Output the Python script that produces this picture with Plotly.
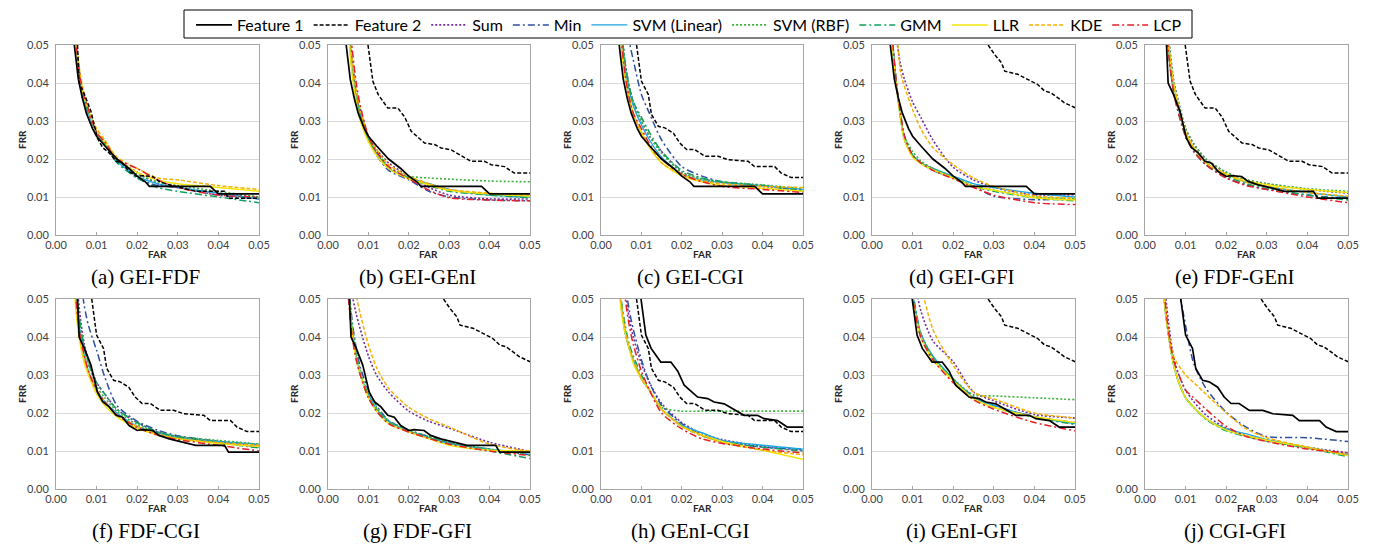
import plotly.graph_objects as go

# ---------------- data ----------------
SERIES = ["Feature 1", "Feature 2", "Sum", "Min", "SVM (Linear)", "SVM (RBF)",
          "GMM", "LLR", "KDE", "LCP"]
CAPTIONS = ["(a) GEI-FDF", "(b) GEI-GEnI", "(c) GEI-CGI", "(d) GEI-GFI", "(e) FDF-GEnI",
            "(f) FDF-CGI", "(g) FDF-GFI", "(h) GEnI-CGI", "(i) GEnI-GFI", "(j) CGI-GFI"]
TICKS = [0.00, 0.01, 0.02, 0.03, 0.04, 0.05]

# single-feature curves (FAR, FRR)
GEI_FAR = [0.0045, 0.0055, 0.0065, 0.0075, 0.009, 0.010, 0.012, 0.015, 0.018, 0.020, 0.022, 0.023, 0.038, 0.040, 0.050]
GEI_FRR = [0.050, 0.041, 0.036, 0.032, 0.028, 0.026, 0.0235, 0.020, 0.0175, 0.0155, 0.014, 0.0128, 0.0128, 0.0108, 0.0108]
FDF_FAR = [0.0053, 0.0057, 0.007, 0.0086, 0.0102, 0.0115, 0.0131, 0.0148, 0.0164, 0.018, 0.020, 0.0213, 0.0238, 0.0254, 0.0279, 0.030, 0.0344, 0.0415, 0.0425, 0.050]
FDF_FRR = [0.050, 0.040, 0.037, 0.0326, 0.0255, 0.023, 0.0216, 0.0194, 0.0189, 0.0167, 0.0154, 0.0156, 0.0154, 0.0141, 0.0132, 0.0127, 0.0115, 0.0115, 0.0097, 0.0097]
GENI_FAR = [0.0099, 0.0111, 0.0124, 0.0148, 0.0173, 0.019, 0.0206, 0.0239, 0.0264, 0.028, 0.0305, 0.0334, 0.0354, 0.0387, 0.0404, 0.0437, 0.0461, 0.050]
GENI_FRR = [0.050, 0.0405, 0.037, 0.0334, 0.0334, 0.031, 0.0273, 0.0242, 0.0238, 0.0229, 0.0224, 0.0207, 0.0194, 0.0194, 0.0185, 0.018, 0.0163, 0.0163]
CGI_FAR = [0.0088, 0.010, 0.0117, 0.0125, 0.0142, 0.0158, 0.0179, 0.0195, 0.0212, 0.0232, 0.0257, 0.029, 0.0315, 0.0364, 0.038, 0.043, 0.0446, 0.0471, 0.050]
CGI_FRR = [0.050, 0.0405, 0.037, 0.0317, 0.0286, 0.0282, 0.0268, 0.0242, 0.0225, 0.0225, 0.0207, 0.0207, 0.0198, 0.0194, 0.018, 0.018, 0.0163, 0.0151, 0.0151]
GFI_FAR = [0.0286, 0.0302, 0.0319, 0.0327, 0.0359, 0.0376, 0.0408, 0.0425, 0.0441, 0.0458, 0.0474, 0.050]
GFI_FRR = [0.050, 0.0475, 0.0453, 0.0431, 0.0423, 0.0414, 0.0396, 0.0379, 0.0374, 0.0361, 0.0348, 0.0335]

PAIRS = [("GEI", "FDF"), ("GEI", "GENI"), ("GEI", "CGI"), ("GEI", "GFI"), ("FDF", "GENI"),
         ("FDF", "CGI"), ("FDF", "GFI"), ("GENI", "CGI"), ("GENI", "GFI"), ("CGI", "GFI")]

# fused curves sampled on a common FAR grid
# order: Sum, Min, SVM (Linear), SVM (RBF), GMM, LLR, KDE, LCP
FAR_GRID = [0.004, 0.005, 0.006, 0.007, 0.008, 0.010, 0.012, 0.015, 0.020, 0.025, 0.030, 0.040, 0.050]

FUSED_A = [
    [0.065, 0.050, 0.041, 0.036, 0.033, 0.027, 0.0245, 0.020, 0.0165, 0.0135, 0.0125, 0.0110, 0.0100],
    [0.065, 0.050, 0.041, 0.036, 0.032, 0.027, 0.024, 0.0195, 0.015, 0.013, 0.0125, 0.0105, 0.0095],
    [0.065, 0.050, 0.040, 0.035, 0.032, 0.027, 0.024, 0.0195, 0.0155, 0.0135, 0.0125, 0.011, 0.0095],
    [0.065, 0.050, 0.041, 0.036, 0.033, 0.027, 0.024, 0.020, 0.016, 0.014, 0.0130, 0.0115, 0.0100],
    [0.065, 0.050, 0.040, 0.035, 0.032, 0.027, 0.024, 0.019, 0.015, 0.0125, 0.0115, 0.010, 0.0085],
    [0.065, 0.050, 0.041, 0.036, 0.033, 0.027, 0.0245, 0.020, 0.0165, 0.0145, 0.0135, 0.0125, 0.0115],
    [0.066, 0.051, 0.042, 0.037, 0.033, 0.028, 0.025, 0.0205, 0.0175, 0.015, 0.0145, 0.013, 0.012],
    [0.065, 0.050, 0.041, 0.036, 0.033, 0.027, 0.0245, 0.020, 0.0175, 0.0145, 0.0125, 0.0105, 0.0100],
]
FUSED_B = [
    [0.075, 0.058, 0.046, 0.038, 0.033, 0.026, 0.0225, 0.019, 0.0155, 0.0125, 0.0105, 0.0095, 0.0095],
    [0.075, 0.058, 0.045, 0.037, 0.032, 0.025, 0.021, 0.017, 0.0145, 0.0115, 0.0100, 0.0092, 0.0090],
    [0.070, 0.055, 0.043, 0.036, 0.031, 0.025, 0.0215, 0.0175, 0.015, 0.0135, 0.0120, 0.0105, 0.0100],
    [0.072, 0.056, 0.044, 0.037, 0.032, 0.025, 0.022, 0.018, 0.0155, 0.0150, 0.0147, 0.0142, 0.0140],
    [0.070, 0.055, 0.043, 0.036, 0.031, 0.025, 0.0215, 0.0175, 0.015, 0.013, 0.0115, 0.0105, 0.0098],
    [0.068, 0.054, 0.042, 0.035, 0.030, 0.0245, 0.021, 0.0175, 0.0148, 0.0132, 0.0118, 0.0108, 0.0102],
    [0.075, 0.058, 0.046, 0.038, 0.033, 0.026, 0.0225, 0.0185, 0.0155, 0.0135, 0.0120, 0.0110, 0.0105],
    [0.080, 0.063, 0.049, 0.040, 0.034, 0.026, 0.022, 0.018, 0.0148, 0.0118, 0.0098, 0.0092, 0.0090],
]
FUSED_C = [
    [0.070, 0.055, 0.045, 0.039, 0.035, 0.030, 0.026, 0.022, 0.0165, 0.0145, 0.0138, 0.0128, 0.0118],
    [0.080, 0.070, 0.060, 0.051, 0.046, 0.037, 0.032, 0.025, 0.018, 0.0155, 0.014, 0.013, 0.0118],
    [0.068, 0.054, 0.044, 0.038, 0.034, 0.029, 0.025, 0.0205, 0.016, 0.0145, 0.0138, 0.013, 0.012],
    [0.070, 0.055, 0.045, 0.039, 0.035, 0.030, 0.026, 0.0215, 0.0165, 0.0148, 0.014, 0.0132, 0.0122],
    [0.070, 0.055, 0.045, 0.039, 0.035, 0.031, 0.027, 0.022, 0.017, 0.015, 0.014, 0.013, 0.0115],
    [0.065, 0.050, 0.041, 0.036, 0.032, 0.027, 0.023, 0.019, 0.0155, 0.014, 0.013, 0.0123, 0.0115],
    [0.066, 0.051, 0.042, 0.036, 0.032, 0.027, 0.0235, 0.019, 0.016, 0.0143, 0.0135, 0.0128, 0.0125],
    [0.068, 0.052, 0.042, 0.036, 0.032, 0.028, 0.024, 0.020, 0.016, 0.014, 0.0128, 0.012, 0.0112],
]
FUSED_D = [
    [0.075, 0.060, 0.052, 0.045, 0.041, 0.035, 0.031, 0.025, 0.0178, 0.0145, 0.0125, 0.0106, 0.0106],
    [0.070, 0.052, 0.040, 0.032, 0.026, 0.021, 0.019, 0.0175, 0.015, 0.0128, 0.0102, 0.0093, 0.0095],
    [0.070, 0.052, 0.040, 0.031, 0.025, 0.021, 0.019, 0.0175, 0.0155, 0.0135, 0.0125, 0.011, 0.010],
    [0.070, 0.052, 0.040, 0.032, 0.026, 0.022, 0.0195, 0.0175, 0.0152, 0.013, 0.0118, 0.010, 0.0095],
    [0.068, 0.050, 0.039, 0.031, 0.025, 0.021, 0.019, 0.017, 0.015, 0.0128, 0.0115, 0.0098, 0.0090],
    [0.068, 0.050, 0.039, 0.031, 0.025, 0.0205, 0.0188, 0.0172, 0.015, 0.0128, 0.0118, 0.0098, 0.0092],
    [0.080, 0.065, 0.055, 0.043, 0.039, 0.033, 0.028, 0.023, 0.0185, 0.0150, 0.0128, 0.0103, 0.0097],
    [0.070, 0.052, 0.040, 0.032, 0.026, 0.021, 0.019, 0.017, 0.0148, 0.0125, 0.0105, 0.0085, 0.0080],
]
FUSED_E = [
    [0.080, 0.062, 0.050, 0.041, 0.036, 0.028, 0.024, 0.020, 0.0165, 0.0145, 0.0135, 0.0120, 0.0110],
    [0.075, 0.060, 0.048, 0.039, 0.034, 0.026, 0.022, 0.0185, 0.015, 0.0132, 0.012, 0.0105, 0.0095],
    [0.075, 0.058, 0.046, 0.038, 0.034, 0.027, 0.023, 0.019, 0.016, 0.014, 0.0128, 0.0112, 0.0100],
    [0.080, 0.062, 0.050, 0.041, 0.036, 0.028, 0.024, 0.020, 0.0165, 0.0145, 0.0135, 0.0122, 0.0115],
    [0.075, 0.058, 0.046, 0.038, 0.033, 0.026, 0.022, 0.0185, 0.0155, 0.0135, 0.0122, 0.0105, 0.0092],
    [0.078, 0.060, 0.048, 0.040, 0.035, 0.027, 0.023, 0.019, 0.016, 0.0142, 0.0132, 0.012, 0.0112],
    [0.078, 0.060, 0.048, 0.040, 0.035, 0.027, 0.023, 0.019, 0.016, 0.0138, 0.0128, 0.0112, 0.0102],
    [0.075, 0.058, 0.046, 0.038, 0.033, 0.026, 0.022, 0.0185, 0.015, 0.013, 0.012, 0.0100, 0.0085],
]
FUSED_F = [
    [0.072, 0.056, 0.045, 0.038, 0.034, 0.028, 0.025, 0.021, 0.0175, 0.015, 0.0138, 0.0125, 0.0115],
    [0.090, 0.070, 0.056, 0.048, 0.043, 0.0365, 0.0295, 0.022, 0.0178, 0.0155, 0.014, 0.0125, 0.011],
    [0.065, 0.050, 0.041, 0.035, 0.031, 0.026, 0.023, 0.020, 0.0165, 0.0148, 0.0135, 0.0125, 0.0118],
    [0.068, 0.052, 0.043, 0.037, 0.033, 0.027, 0.024, 0.0205, 0.017, 0.015, 0.0138, 0.0128, 0.0118],
    [0.068, 0.052, 0.043, 0.037, 0.033, 0.028, 0.025, 0.021, 0.0175, 0.015, 0.0138, 0.0122, 0.0108],
    [0.060, 0.046, 0.038, 0.033, 0.030, 0.025, 0.022, 0.019, 0.016, 0.0143, 0.0132, 0.012, 0.0112],
    [0.064, 0.048, 0.039, 0.034, 0.031, 0.026, 0.023, 0.0195, 0.0165, 0.0145, 0.0133, 0.0122, 0.0115],
    [0.065, 0.049, 0.040, 0.035, 0.031, 0.026, 0.023, 0.0195, 0.0162, 0.0142, 0.013, 0.0115, 0.0100],
]
FUSED_G = [
    [0.075, 0.060, 0.051, 0.046, 0.042, 0.035, 0.030, 0.0255, 0.0205, 0.0178, 0.016, 0.0123, 0.0099],
    [0.070, 0.055, 0.044, 0.037, 0.032, 0.026, 0.022, 0.018, 0.0155, 0.0138, 0.0122, 0.0105, 0.0090],
    [0.068, 0.053, 0.042, 0.035, 0.030, 0.025, 0.021, 0.0178, 0.0152, 0.0135, 0.012, 0.0105, 0.0095],
    [0.068, 0.054, 0.043, 0.036, 0.031, 0.025, 0.0215, 0.018, 0.0155, 0.0138, 0.0122, 0.0105, 0.0090],
    [0.066, 0.052, 0.041, 0.034, 0.030, 0.024, 0.021, 0.0175, 0.015, 0.0135, 0.0118, 0.010, 0.0080],
    [0.066, 0.052, 0.041, 0.034, 0.030, 0.024, 0.0205, 0.0172, 0.015, 0.0132, 0.0115, 0.0102, 0.0100],
    [0.090, 0.075, 0.062, 0.051, 0.046, 0.038, 0.032, 0.0265, 0.0215, 0.0185, 0.0163, 0.0118, 0.0099],
    [0.066, 0.051, 0.040, 0.034, 0.030, 0.024, 0.0205, 0.0172, 0.015, 0.0133, 0.0118, 0.0100, 0.0088],
]
FUSED_H = [
    [0.080, 0.062, 0.052, 0.045, 0.040, 0.033, 0.028, 0.0225, 0.0175, 0.0145, 0.013, 0.0112, 0.0102],
    [0.085, 0.065, 0.054, 0.047, 0.042, 0.034, 0.028, 0.022, 0.0172, 0.0142, 0.0125, 0.011, 0.0105],
    [0.062, 0.048, 0.041, 0.037, 0.034, 0.029, 0.026, 0.021, 0.0168, 0.0148, 0.0128, 0.0115, 0.0105],
    [0.062, 0.048, 0.041, 0.037, 0.034, 0.029, 0.026, 0.0215, 0.0205, 0.0205, 0.0205, 0.0205, 0.0205],
    [0.065, 0.050, 0.043, 0.038, 0.035, 0.030, 0.026, 0.021, 0.0165, 0.014, 0.0125, 0.011, 0.0100],
    [0.062, 0.047, 0.041, 0.037, 0.033, 0.029, 0.026, 0.021, 0.0165, 0.0142, 0.0125, 0.0102, 0.0078],
    [0.064, 0.049, 0.042, 0.037, 0.034, 0.029, 0.026, 0.021, 0.0165, 0.014, 0.0122, 0.0102, 0.0090],
    [0.080, 0.060, 0.050, 0.043, 0.038, 0.031, 0.026, 0.020, 0.0158, 0.0132, 0.012, 0.0105, 0.0095],
]
FUSED_I = [
    [0.130, 0.110, 0.095, 0.080, 0.070, 0.058, 0.047, 0.039, 0.0335, 0.0255, 0.0232, 0.0196, 0.0187],
    [0.120, 0.100, 0.085, 0.072, 0.064, 0.052, 0.041, 0.0345, 0.0285, 0.0245, 0.022, 0.019, 0.0175],
    [0.120, 0.100, 0.085, 0.072, 0.063, 0.051, 0.041, 0.035, 0.029, 0.024, 0.022, 0.019, 0.0172],
    [0.120, 0.100, 0.085, 0.072, 0.063, 0.051, 0.041, 0.0348, 0.029, 0.0248, 0.0245, 0.024, 0.0235],
    [0.120, 0.100, 0.085, 0.072, 0.062, 0.050, 0.040, 0.034, 0.0285, 0.0238, 0.0215, 0.0188, 0.017],
    [0.120, 0.100, 0.085, 0.072, 0.062, 0.050, 0.040, 0.034, 0.0285, 0.0238, 0.0215, 0.019, 0.0175],
    [0.150, 0.120, 0.100, 0.088, 0.078, 0.065, 0.054, 0.042, 0.0325, 0.0255, 0.0237, 0.020, 0.0187],
    [0.120, 0.100, 0.085, 0.072, 0.062, 0.050, 0.040, 0.034, 0.028, 0.0235, 0.021, 0.0175, 0.0153],
]
FUSED_J = [
    [0.070, 0.052, 0.042, 0.035, 0.031, 0.026, 0.023, 0.0195, 0.016, 0.014, 0.0128, 0.011, 0.0095],
    [0.110, 0.090, 0.075, 0.062, 0.055, 0.043, 0.033, 0.0265, 0.0202, 0.0162, 0.0138, 0.0135, 0.0125],
    [0.062, 0.047, 0.039, 0.033, 0.029, 0.024, 0.0215, 0.0185, 0.0158, 0.0145, 0.013, 0.011, 0.0090],
    [0.062, 0.047, 0.039, 0.033, 0.029, 0.024, 0.0215, 0.0185, 0.0155, 0.014, 0.0128, 0.0108, 0.0088],
    [0.062, 0.047, 0.039, 0.033, 0.029, 0.024, 0.0215, 0.0183, 0.0153, 0.0138, 0.0126, 0.0108, 0.0085],
    [0.062, 0.047, 0.039, 0.033, 0.029, 0.024, 0.0215, 0.0185, 0.0155, 0.014, 0.0128, 0.011, 0.0088],
    [0.065, 0.049, 0.040, 0.035, 0.033, 0.030, 0.028, 0.025, 0.020, 0.0158, 0.0135, 0.011, 0.0090],
    [0.065, 0.049, 0.040, 0.034, 0.031, 0.026, 0.024, 0.021, 0.0165, 0.0138, 0.0125, 0.0105, 0.0095],
]
FUSED = [FUSED_A, FUSED_B, FUSED_C, FUSED_D, FUSED_E, FUSED_F, FUSED_G, FUSED_H, FUSED_I, FUSED_J]

# ---------------- styles ----------------
BASE = {
    "GEI": (GEI_FAR, GEI_FRR), "FDF": (FDF_FAR, FDF_FRR), "GENI": (GENI_FAR, GENI_FRR),
    "CGI": (CGI_FAR, CGI_FRR), "GFI": (GFI_FAR, GFI_FRR),
}
STYLE = {
    "Feature 1": dict(color="#000000", dash="solid", width=1.7),
    "Feature 2": dict(color="#000000", dash="4px,2px", width=1.5),
    "Sum": dict(color="#7030A0", dash="2px,2px", width=1.6),
    "Min": dict(color="#2F4FA0", dash="7px,3px,2px,3px", width=1.5),
    "SVM (Linear)": dict(color="#1FA5E0", dash="solid", width=1.4),
    "SVM (RBF)": dict(color="#3DB33D", dash="2px,2px", width=1.6),
    "GMM": dict(color="#10A060", dash="7px,3px,2px,3px", width=1.5),
    "LLR": dict(color="#F2E40A", dash="solid", width=1.5),
    "KDE": dict(color="#F5B000", dash="4px,2px", width=1.5),
    "LCP": dict(color="#E52028", dash="7px,3px,2px,3px", width=1.5),
}

W, H = 1381, 544
LEFTS = [48, 320, 593, 864, 1137]
RIGHTS = [251, 522, 795, 1067, 1340]
TOPS = [37, 291]
BOTTOMS = [227, 481]

fig = go.Figure()
layout = {}
annotations = []
TICKFONT = dict(family="Lato, Liberation Sans, sans-serif", size=11, color="#404040")

for k in range(10):
    r, c = divmod(k, 5)
    xa = "x" if k == 0 else f"x{k+1}"
    ya = "y" if k == 0 else f"y{k+1}"
    # fused first (drawn below), features on top
    for j, name in enumerate(SERIES[2:]):
        st = STYLE[name]
        fig.add_trace(go.Scatter(
            x=FAR_GRID, y=FUSED[k][j], mode="lines", name=name, legendgroup=name,
            legendrank=j + 3, showlegend=(k == 0), xaxis=xa, yaxis=ya,
            line=dict(color=st["color"], dash=st["dash"], width=st["width"],
                      shape="spline", smoothing=0.7),
            hoverinfo="skip"))
    for j, key in enumerate(PAIRS[k]):
        name = SERIES[j]
        st = STYLE[name]
        fx, fy = BASE[key]
        fig.add_trace(go.Scatter(
            x=fx, y=fy, mode="lines", name=name, legendgroup=name,
            legendrank=j + 1, showlegend=(k == 0), xaxis=xa, yaxis=ya,
            line=dict(color=st["color"], dash=st["dash"], width=st["width"]),
            hoverinfo="skip"))

    xkey = "xaxis" if k == 0 else f"xaxis{k+1}"
    ykey = "yaxis" if k == 0 else f"yaxis{k+1}"
    layout[xkey] = dict(
        domain=[LEFTS[c] / W, RIGHTS[c] / W], anchor=ya, range=[0, 0.05],
        tickvals=TICKS, tickformat=".2f", showgrid=False, zeroline=False,
        showline=True, linecolor="#a6a6a6", linewidth=1, mirror=True,
        ticks="inside", ticklen=3, tickcolor="#a6a6a6", tickfont=TICKFONT,
        automargin=False, fixedrange=True)
    layout[ykey] = dict(
        domain=[(H - BOTTOMS[r]) / H, (H - TOPS[r]) / H], anchor=xa, range=[0, 0.05],
        tickvals=TICKS, tickformat=".2f", showgrid=True, gridcolor="#d9d9d9",
        gridwidth=1, zeroline=False, showline=True, linecolor="#a6a6a6",
        linewidth=1, mirror=True, ticks="", tickfont=TICKFONT, ticklabelstandoff=4,
        automargin=False, fixedrange=True)

    cx = (LEFTS[c] + RIGHTS[c]) / 2
    annotations.append(dict(
        text="FAR", x=cx / W, y=(H - (BOTTOMS[r] + 19)) / H, xref="paper", yref="paper",
        showarrow=False, xanchor="center", yanchor="middle",
        font=dict(family="Lato, Liberation Sans, sans-serif", size=10, color="#262626",
                  weight="bold")))
    annotations.append(dict(
        text="FRR", x=(LEFTS[c] - 34) / W, y=(H - (TOPS[r] + BOTTOMS[r]) / 2) / H,
        xref="paper", yref="paper", showarrow=False, textangle=-90,
        xanchor="center", yanchor="middle",
        font=dict(family="Lato, Liberation Sans, sans-serif", size=10, color="#262626",
                  weight="bold")))
    annotations.append(dict(
        text=CAPTIONS[k], x=(cx - 12) / W, y=(H - (BOTTOMS[r] + 42)) / H,
        xref="paper", yref="paper", showarrow=False, xanchor="center", yanchor="middle",
        font=dict(family="Liberation Serif, Times New Roman, serif", size=21,
                  color="#000000")))

# legend frame drawn as a shape so it can be tighter than plotly's own box
LEG_BOX = dict(type="rect", xref="paper", yref="paper",
               x0=176 / W, x1=1184 / W, y0=(H - 30) / H, y1=(H - 2) / H,
               line=dict(color="#000000", width=1), fillcolor="white", layer="below")

fig.update_layout(
    **layout,
    annotations=annotations,
    shapes=[LEG_BOX],
    width=W, height=H,
    margin=dict(l=0, r=0, t=0, b=0, autoexpand=False),
    paper_bgcolor="white", plot_bgcolor="white",
    showlegend=True,
    legend=dict(orientation="h", x=681 / W, xanchor="center", y=1.0,
                yanchor="top", borderwidth=0,
                bgcolor="rgba(0,0,0,0)", font=dict(family="Lato, Liberation Sans, sans-serif",
                                                   size=16, color="#000000"),
                itemwidth=36, tracegroupgap=0, traceorder="normal"),
)

fig.write_html("out.html")
